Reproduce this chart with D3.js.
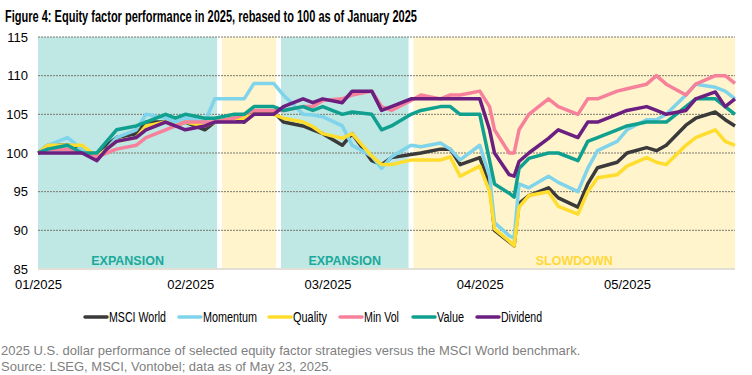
<!DOCTYPE html>
<html>
<head>
<meta charset="utf-8">
<script src="https://cdn.jsdelivr.net/npm/d3@7"></script>
<style>
  body { margin: 0; background: #fff; }
  text { font-family: "Liberation Sans", Arial, sans-serif; }
</style>
</head>
<body>
<script>
// ---- data (index, rebased to 100) ----
var dates = ["2025-01-01","2025-01-03","2025-01-07","2025-01-10","2025-01-13","2025-01-15","2025-01-17",
  "2025-01-21","2025-01-23","2025-01-27","2025-01-29","2025-01-31","2025-02-04","2025-02-06","2025-02-10",
  "2025-02-12","2025-02-14","2025-02-18","2025-02-20","2025-02-24","2025-02-26","2025-02-28","2025-03-04",
  "2025-03-06","2025-03-10","2025-03-12","2025-03-14","2025-03-18","2025-03-20","2025-03-24","2025-03-26",
  "2025-03-28","2025-04-01","2025-04-03","2025-04-04","2025-04-07","2025-04-08","2025-04-09","2025-04-11",
  "2025-04-15","2025-04-17","2025-04-21","2025-04-23","2025-04-25","2025-04-29","2025-05-01","2025-05-05",
  "2025-05-07","2025-05-09","2025-05-13","2025-05-15","2025-05-19","2025-05-21","2025-05-23"];

var msciWorld = [100,101,101,100.8,99.5,101,102,102.5,104,104,
  103.5,104,103,104,104.5,104,105.3,105.3,104,103.5,
  103,102.5,101,102.5,99,98.5,99.4,99.8,100,100.5,
  100.5,98.5,99.4,96,90,88.5,88,93.5,94.5,95.5,
  94.2,93,96,98.1,98.8,100,100.7,100.3,101,103.6,
  104.5,105.3,104.3,103.5];
var momentum = [100,101,102,100.5,99.5,100.5,102,103,105,104.5,
  104,104.5,104,107,107,107,109,109,107.5,105,
  104.9,104.7,103.5,101,99.6,98,99.5,101,100.8,101.3,
  100.5,99.1,101,97,91,89.3,89,96,95.5,97,
  96.2,95,98,100.3,101.5,103,104.3,104.3,105,107.5,
  108.9,108.5,108,107];
var quality = [100,101,101,101,99.5,100.5,101.5,102,103.5,104,
  103.5,104,103.5,104,104.5,104.5,105,105,104.5,104,
  103.4,102.5,101.9,102.5,99.6,98.5,98.5,99.1,99.1,99.1,
  99.5,97,98.3,95,90.2,88.6,88,93,94.5,95,
  93.1,92.1,95,96.8,97.2,98.3,99.4,98.8,98.5,101,
  102,103,101.5,101];
var minVol = [100,100.5,100.5,100,99.5,100,100.5,101,102,103,
  103.5,104,104,104,104.5,105,105.5,105.5,105.5,106,
  106,106.8,107,107.5,108,106,105.5,106.8,107.5,107,
  107.5,107.5,108,106,103,100,100,103,105,107,
  106,105,107,107,108,108.3,108.9,110,108.9,107.5,
  108.9,110,110,109];
var value = [100,100.5,101,100,100,101.5,103,103.5,104,105,
  104.5,105,104.5,104.5,105,105,106,106,105.5,106,
  105.5,106,105,105.3,105,103,103.5,105,105.5,106,
  106,105,105,99,96,94.8,94.3,98,99.3,100,
  100,99,101.5,102,103,103.5,104,104,104,106,
  107,107,106,105];
var dividend = [100,100,100,100,99,100.5,101.5,102,103,104,
  103.5,103,103.5,104,104,104,105,105,106,107,
  106.5,107,106.5,108,108,105.5,106,107,107,107,
  107,107,107,103,100,97.2,97,98.9,100,101.9,
  103,102,104,104,105,105.5,106,105.5,105,105.5,
  107,107.9,106,107];

var seriesNames = ["MSCI World","Momentum","Quality","Min Vol","Value","Dividend"];
var seriesColors = ["#3a3a3a","#7fd3ea","#ffdd2e","#f7819b","#10a08f","#6b1f80"];

// regime bands
var bandStarts = ["2025-01-01","2025-02-07","2025-02-19","2025-03-18"];
var bandEnds   = ["2025-02-07","2025-02-19","2025-03-18","2025-05-23"];
var bandTypes  = ["EXPANSION","slow","EXPANSION","SLOWDOWN"];

var yTicks = [85,90,95,100,105,110,115];
var monthTicks = ["2025-01-01","2025-02-01","2025-03-01","2025-04-01","2025-05-01"];

var W = 752, H = 375;
var parse = d3.timeParse("%Y-%m-%d");

var svg = d3.select("body").append("svg")
    .attr("width", W)
    .attr("height", H);

var x = d3.scaleTime()
    .domain([parse("2025-01-01"), parse("2025-05-23")])
    .range([38, 735]);

var y = d3.scaleLinear()
    .domain([85, 115])
    .range([269, 37]);

/* title (condensed bold face in the original, squeezed to its width) */
svg.append("text")
    .attr("x", 5)
    .attr("y", 22)
    .attr("font-weight", "bold")
    .attr("font-size", "16px")
    .attr("textLength", 412)
    .attr("lengthAdjust", "spacingAndGlyphs")
    .attr("fill", "#000")
    .text("Figure 4: Equity factor performance in 2025, rebased to 100 as of January 2025");

/* background bands */
var bandFill = { EXPANSION: "#bfe7e3", slow: "#fff4cb", SLOWDOWN: "#fff4cb" };
var gap = 2.5;
bandStarts.forEach(function(s, i) {
    var x0 = x(parse(s)) + (i === 0 ? 0 : gap);
    var x1 = x(parse(bandEnds[i])) - (i === bandStarts.length - 1 ? 0 : gap);
    svg.append("rect")
        .attr("x", x0)
        .attr("y", y(115))
        .attr("width", x1 - x0)
        .attr("height", y(85) - y(115))
        .attr("fill", bandFill[bandTypes[i]]);
    if (bandTypes[i] !== "slow") {
        svg.append("text")
            .attr("x", (x0 + x1) / 2)
            .attr("y", 265)
            .attr("text-anchor", "middle")
            .attr("font-weight", "bold")
            .attr("font-size", "12.5px")
            .attr("fill", bandTypes[i] === "EXPANSION" ? "#1aa99a" : "#ffd83c")
            .text(bandTypes[i]);
    }
});

/* gridlines */
svg.append("g").selectAll("line")
    .data(yTicks.filter(function(t) { return t > 85; }))
    .enter().append("line")
    .attr("x1", 38).attr("x2", 735)
    .attr("y1", function(d) { return y(d); })
    .attr("y2", function(d) { return y(d); })
    .attr("stroke", "#7a7a6e")
    .attr("stroke-width", 1)
    .attr("stroke-dasharray", "2,1");

// bottom axis line
svg.append("line")
    .attr("x1", 38).attr("x2", 735)
    .attr("y1", y(85)).attr("y2", y(85))
    .attr("stroke", "#e2e0d6")
    .attr("stroke-width", 2);

/* axes (labels only) */
var yAxis = svg.append("g")
    .attr("transform", "translate(28,0)")
    .call(d3.axisLeft(y).tickValues(yTicks).tickSize(0).tickPadding(0));
yAxis.select(".domain").remove();
yAxis.selectAll("text")
    .attr("font-family", "'Liberation Sans', Arial, sans-serif")
    .attr("font-size", "13px")
    .attr("fill", "#000");

var xAxis = svg.append("g")
    .attr("transform", "translate(0,276)")
    .call(d3.axisBottom(x)
        .tickValues(monthTicks.map(parse))
        .tickFormat(d3.timeFormat("%m/%Y"))
        .tickSize(0).tickPadding(4));
xAxis.select(".domain").remove();
xAxis.selectAll("text")
    .attr("font-family", "'Liberation Sans', Arial, sans-serif")
    .attr("font-size", "13px")
    .attr("fill", "#000");

/* lines */
var allSeries = [msciWorld, momentum, quality, minVol, value, dividend];
var line = d3.line()
    .x(function(d) { return x(d.date); })
    .y(function(d) { return y(d.v); });

allSeries.forEach(function(vals, i) {
    var pts = vals.map(function(v, j) { return { date: parse(dates[j]), v: v }; });
    svg.append("path")
        .datum(pts)
        .attr("d", line)
        .attr("fill", "none")
        .attr("stroke", seriesColors[i])
        .attr("stroke-width", 3.5)
        .attr("stroke-linejoin", "round");
});

/* legend - labels squeezed to the narrow face widths */
var legX = [85, 179, 269, 340, 413, 477];
var legW = [57, 54, 34, 35, 27, 41];
var leg = svg.append("g");
seriesNames.forEach(function(n, i) {
    leg.append("line")
        .attr("x1", legX[i]).attr("x2", legX[i] + 22)
        .attr("y1", 317).attr("y2", 317)
        .attr("stroke", seriesColors[i])
        .attr("stroke-width", 3.5)
        .attr("stroke-linecap", "round");
    leg.append("text")
        .attr("x", legX[i] + 24)
        .attr("y", 322)
        .attr("font-size", "14px")
        .attr("textLength", legW[i])
        .attr("lengthAdjust", "spacingAndGlyphs")
        .attr("fill", "#000")
        .text(n);
});

/* footnote */
svg.append("text")
    .attr("x", 1).attr("y", 355)
    .attr("font-size", "13px")
    .attr("fill", "#808080")
    .text("2025 U.S. dollar performance of selected equity factor strategies versus the MSCI World benchmark.");
svg.append("text")
    .attr("x", 1).attr("y", 371)
    .attr("font-size", "13px")
    .attr("fill", "#808080")
    .text("Source: LSEG, MSCI, Vontobel; data as of May 23, 2025.");
</script>
</body>
</html>
